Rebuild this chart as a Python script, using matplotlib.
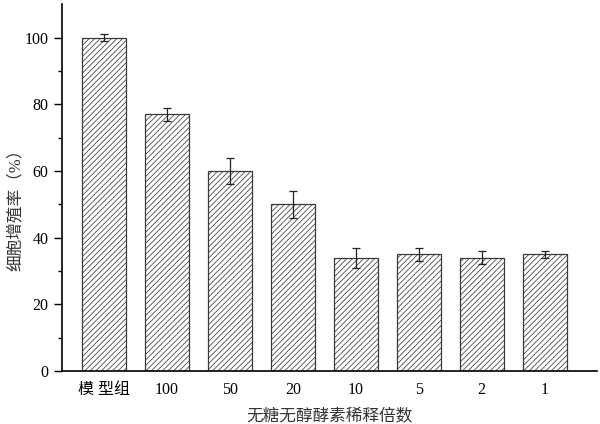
import matplotlib
matplotlib.use("Agg")
import matplotlib.pyplot as plt
import numpy as np

plt.rcParams['font.family'] = ['Liberation Serif', 'Noto Sans CJK SC']
plt.rcParams['hatch.color'] = '#707070'
plt.rcParams['hatch.linewidth'] = 0.55

categories = ['模 型组', '100', '50', '20', '10', '5', '2', '1']
values = [100, 77, 60, 50, 34, 35, 34, 35]
errors = [1, 2, 4, 4, 3, 2, 2, 1]

fig = plt.figure(figsize=(6, 4.24), dpi=100)
ax = fig.add_axes([0.103, 0.125, 0.892, 0.865])
x = np.arange(len(categories))
ax.bar(x, values, width=0.7, color='white', edgecolor='#3a3a3a', linewidth=0.9,
       hatch='//////', yerr=errors, capsize=3,
       error_kw=dict(ecolor='#222222', elinewidth=0.9, capthick=0.9))
ax.set_xlim(-0.667, 7.83)
ax.set_ylim(0, 110)
ax.set_yticks([0, 20, 40, 60, 80, 100])
ax.set_yticks(np.arange(10, 110, 20), minor=True)
ax.set_xticks(x)
ax.set_xticklabels(categories, fontsize=11.5)
ax.tick_params(axis='x', length=0, pad=8)
ax.tick_params(axis='y', which='major', length=6, width=1, labelsize=11.5, direction='out')
ax.tick_params(axis='y', which='minor', length=3, width=1, direction='out')
for s in ['top', 'right']:
    ax.spines[s].set_visible(False)
for s in ['left', 'bottom']:
    ax.spines[s].set_linewidth(1.2)
ax.set_ylabel('细胞增殖率（%）', fontsize=12, color='#333333')
ax.yaxis.set_label_coords(-0.07, 0.45)
ax.set_xlabel('无糖无醇酵素稀释倍数', fontsize=12, color='#333333', labelpad=8)
fig.savefig('out.png', dpi=100)
